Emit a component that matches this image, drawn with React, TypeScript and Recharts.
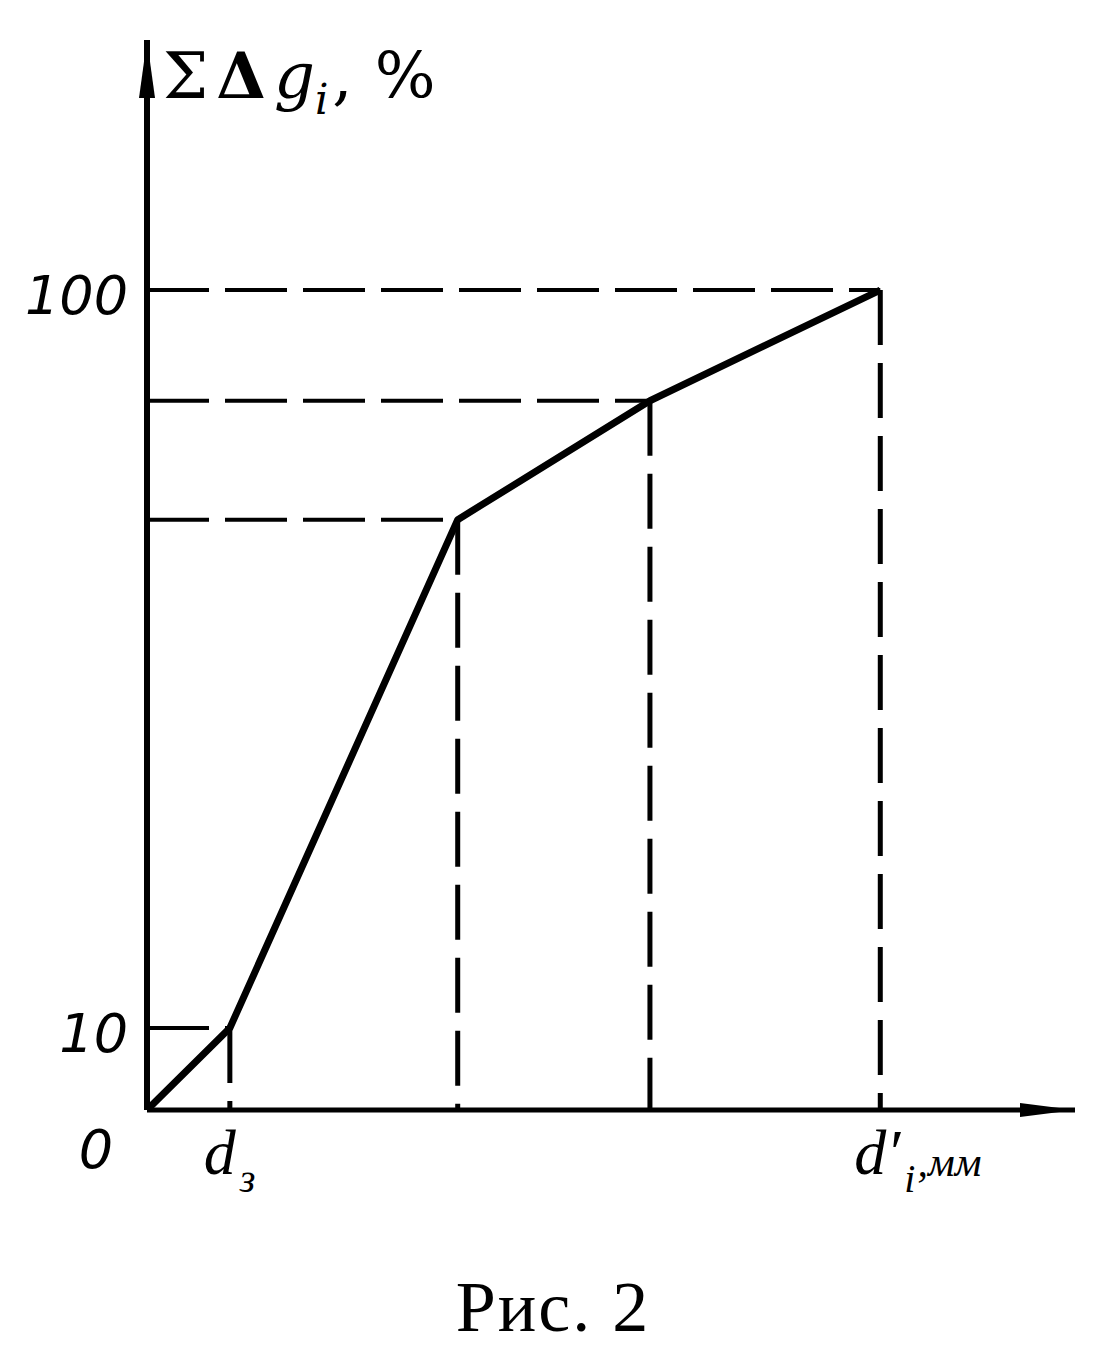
import { LineChart, Line, XAxis, YAxis, ReferenceLine, ReferenceDot } from 'recharts';

// points of the broken line (x in arbitrary units of d, y in %)
const xValues = [0, 1, 3.75, 6.07, 8.85];
const yValues = [0, 10, 72, 86.5, 100];

const yTicks = [0, 10, 100];
const xTicks = [1, 8.85];
const xTickMain = ['d', 'd′'];
const xTickSub = ['з', 'i'];
const xTickUnit = ['', ',мм'];

const X_MAX = 11.2;
const Y_MAX = 130.5;

const data = xValues.map((x, i) => ({ x, y: yValues[i] }));

const numFont = { fontFamily: 'DejaVu Sans', fontStyle: 'italic', fontSize: 54, fill: '#000' };
const letterFont = { fontFamily: 'Liberation Serif', fontStyle: 'italic', fontSize: 64, fill: '#000' };

const YTick = (props: any) => {
  const { x, y, payload } = props;
  if (payload.value === 0) {
    return (
      <text x={x - 32} y={y + 58} textAnchor="end" style={numFont}>
        0
      </text>
    );
  }
  return (
    <text x={x - 17} y={y + 24} textAnchor="end" style={numFont}>
      {payload.value}
    </text>
  );
};

const XTick = (props: any) => {
  const { x, y, payload } = props;
  const i = xTicks.indexOf(payload.value);
  if (i < 0) return null;
  return (
    <text x={x - 26} y={y + 62} style={letterFont}>
      {xTickMain[i]}
      <tspan dx={4} dy={18} fontSize={40}>{xTickSub[i]}</tspan>
      {xTickUnit[i] && (
        <tspan dx={2} dy={-16} fontSize={42}>{xTickUnit[i]}</tspan>
      )}
    </text>
  );
};

const UpArrow = (props: any) => {
  const { cx, cy } = props;
  return (
    <g>
      <polygon points={`${cx},${cy} ${cx - 8},${cy + 58} ${cx + 8},${cy + 58}`} fill="#000" />
      <text x={cx + 16} y={cy + 58} style={{ fontFamily: 'DejaVu Serif', fontSize: 64, fill: '#000' }}>
        <tspan>Σ</tspan>
        <tspan dx={8} fontWeight="bold">Δ</tspan>
        <tspan dx={8} fontStyle="italic">g</tspan>
        <tspan dy={16} fontSize={42} fontStyle="italic">i</tspan>
        <tspan dx={4} dy={-16}>,</tspan>
        <tspan dx={22}>%</tspan>
      </text>
    </g>
  );
};

const RightArrow = (props: any) => {
  const { cx, cy } = props;
  return (
    <polygon points={`${cx},${cy} ${cx - 55},${cy - 7} ${cx - 55},${cy + 7}`} fill="#000" />
  );
};

export default function App() {
  return (
    <div style={{ position: 'absolute', left: 0, top: 0, width: 1106, height: 1369, background: '#fff' }}>
      <LineChart
        width={1106}
        height={1369}
        data={data}
        margin={{ top: 40, right: 31, bottom: 0, left: 0 }}
      >
        <XAxis
          type="number"
          dataKey="x"
          domain={[0, X_MAX]}
          ticks={xTicks}
          tick={<XTick />}
          tickLine={false}
          tickSize={0}
          height={259}
          axisLine={{ stroke: '#000', strokeWidth: 5 }}
          allowDataOverflow
        />
        <YAxis
          type="number"
          domain={[0, Y_MAX]}
          ticks={yTicks}
          tick={<YTick />}
          tickLine={false}
          tickSize={0}
          width={147}
          axisLine={{ stroke: '#000', strokeWidth: 6 }}
          allowDataOverflow
        />
        {data.slice(1).map((p, i) => (
          <ReferenceLine
            key={`h-${i}`}
            segment={[{ x: 0, y: p.y }, { x: p.x, y: p.y }]}
            stroke="#000"
            strokeWidth={4}
            strokeDasharray="62 16"
          />
        ))}
        {data.slice(1).map((p, i) => (
          <ReferenceLine
            key={`v-${i}`}
            segment={[{ x: p.x, y: p.y }, { x: p.x, y: 0 }]}
            stroke="#000"
            strokeWidth={5}
            strokeDasharray="55 18"
          />
        ))}
        <ReferenceDot x={0} y={Y_MAX} r={0} shape={<UpArrow />} ifOverflow="visible" />
        <ReferenceDot x={X_MAX} y={0} r={0} shape={<RightArrow />} ifOverflow="visible" />
        <Line
          type="linear"
          dataKey="y"
          stroke="#000"
          strokeWidth={7}
          strokeLinejoin="round"
          dot={false}
          isAnimationActive={false}
        />
      </LineChart>
      <div
        style={{
          position: 'absolute',
          left: 0,
          width: 1106,
          top: 1266,
          textAlign: 'center',
          fontFamily: 'Liberation Serif',
          fontSize: 72,
          letterSpacing: 2,
          color: '#000',
        }}
      >
        Рис. 2
      </div>
    </div>
  );
}
